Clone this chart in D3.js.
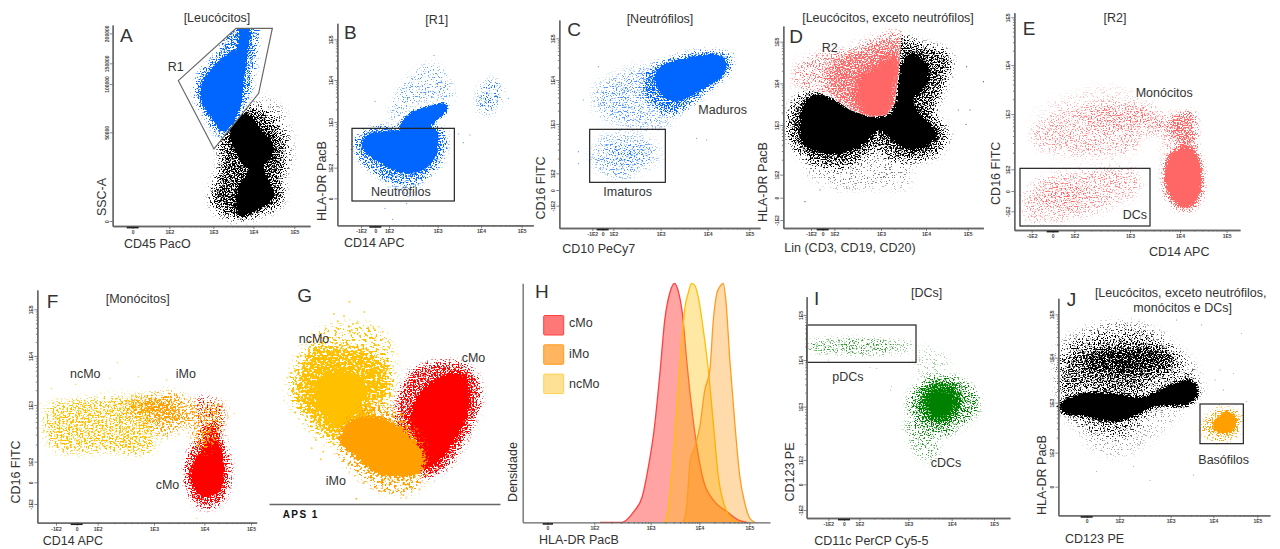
<!DOCTYPE html>
<html>
<head>
<meta charset="utf-8">
<script src="https://cdnjs.cloudflare.com/ajax/libs/d3/7.8.5/d3.min.js"></script>
<style>
  html, body { margin: 0; padding: 0; background: #fff; }
  svg { display: block; }
  text { font-family: "Liberation Sans", Arial, sans-serif; fill: #333; }
</style>
</head>
<body>
<svg id="chart" width="1280" height="549"></svg>
<script>
// Event clouds are read off the picture as density regions: [channel x, channel y] outlines
// with a relative density. Axis channels are 1/3 px. The grain is only an SVG filter texture.

// A
const aXTicks = [128, 238, 370, 490, 613];
const aXLabels = ["0", "1E2", "1E3", "1E4", "1E5"];
const aYTicks = [137, 403, 548, 610, 700];
const aYLabels = ["0", "50000", "100000", "150000", "200000"];
const aGate = [[265,558],[438,715],[547,715],[506,520],[372,353]];
const aBlueCore = [[478,715],[475,670],[470,620],[462,560],[455,500],[440,450],[420,420],[395,405],[370,440],[340,480],[330,520],[340,560],[370,600],[410,635],[440,655],[447,690],[450,715]];
const aBlueSparse = [[430,725],[500,725],[500,660],[490,580],[470,500],[400,390],[340,460],[315,530],[335,590],[380,635]];
const aBlackCore = [[440,445],[470,460],[510,415],[550,370],[545,330],[520,300],[545,240],[545,200],[500,170],[450,150],[440,170],[445,240],[475,290],[450,320],[425,370],[420,415]];
const aBlackMid = [[470,480],[530,460],[580,370],[575,280],[570,190],[510,160],[440,145],[380,170],[365,220],[385,270],[395,330],[390,380],[420,430]];
const aBlackFar = [[500,510],[570,480],[600,400],[600,290],[570,300],[560,430]];

// B
const bXTicks = [183, 226, 267, 413, 543, 665];
const bXLabels = ["-1E2", "0", "1E2", "1E3", "1E4", "1E5"];
const bYTicks = [205, 297, 434, 560, 682];
const bYLabels = ["0", "1E2", "1E3", "1E4", "1E5"];
const bGate = [[156,415],[463,197]];
const bCoreLow = [[185,375],[215,400],[280,407],[400,415],[415,380],[405,330],[370,290],[320,280],[270,295],[220,325],[190,350]];
const bCoreHigh = [[300,425],[330,460],[380,480],[440,488],[440,470],[410,440],[380,415],[300,415]];
const bMid = [[160,370],[200,410],[300,420],[430,410],[430,330],[380,270],[320,240],[260,260],[200,300],[170,335]];
const bUpper = [[270,460],[290,520],[340,580],[400,610],[450,560],[460,500],[430,500],[330,480],[290,430]];
const bLower = [[240,280],[320,200],[370,260]];
const bRight = [[540,540],[590,565],[605,510],[575,460],[540,465]];
const bStray = [[402,634],[225,496],[475,398],[510,395],[625,505],[255,175],[278,142],[320,190],[490,372],[437,388]];

// C
const cXTicks = [187, 218, 250, 392, 533, 658];
const cXLabels = ["-1E2", "0", "1E2", "1E3", "1E4", "1E5"];
const cYTicks = [183, 230, 280, 428, 560, 685];
const cYLabels = ["-1E2", "0", "1E2", "1E3", "1E4", "1E5"];
const cGate = [[179,412],[406,253]];
const cCore = [[385,595],[430,615],[520,635],[575,630],[588,605],[575,570],[520,535],[470,505],[420,500],[390,525],[375,560]];
const cMid = [[355,590],[420,620],[520,645],[600,630],[600,590],[540,535],[470,480],[420,455],[370,480],[340,530]];
const cFar = [[200,540],[250,570],[320,600],[370,590],[370,470],[430,440],[380,415],[300,420],[220,450],[190,490]];
const cImmature = [[185,320],[220,390],[280,400],[370,370],[390,330],[340,290],[280,260],[220,280]];
const cImmatureDense = [[230,335],[290,360],[340,330],[290,300]];
const cStray = [[205,600],[160,500],[145,345],[145,310],[500,385],[530,380],[610,640]];

// D
const dXTicks = [183, 218, 253, 393, 528, 653];
const dXLabels = ["-1E2", "0", "1E2", "1E3", "1E4", "1E5"];
const dYTicks = [140, 207, 276, 425, 550, 675];
const dYLabels = ["-1E2", "0", "1E2", "1E3", "1E4", "1E5"];
const dGate = [[120,535],[200,525],[250,505],[300,470],[360,450],[410,455],[435,490],[447,600],[455,700],[470,715],[120,715]];
const dBlackCore = [[150,410],[165,490],[200,515],[250,500],[300,470],[360,450],[420,455],[440,500],[455,600],[475,635],[510,630],[535,590],[525,540],[490,500],[510,460],[560,400],[535,365],[480,350],[420,385],[390,410],[350,375],[280,340],[200,345],[155,375]];
const dBlackMid = [[115,420],[140,500],[200,530],[360,460],[430,470],[440,690],[500,670],[600,630],[580,540],[550,460],[590,400],[560,340],[480,320],[420,330],[380,360],[300,310],[200,310],[140,350]];
const dBlackFar = [[160,300],[200,320],[430,350],[480,300],[470,240],[400,240],[250,240]];
const dRedCore = [[450,620],[430,530],[410,450],[350,450],[320,510],[330,570],[380,600],[420,630]];
const dRedMid = [[445,680],[435,450],[350,430],[280,480],[240,530],[240,610],[340,650]];
const dRedSparse = [[130,590],[170,630],[300,660],[465,710],[450,430],[300,480],[190,510],[130,530]];
const dStray = [[650,600],[700,555],[648,427],[625,470],[165,195],[210,230],[660,470]];

// E
const eXTicks = [155, 218, 283, 450, 600, 740];
const eXLabels = ["-1E2", "0", "1E2", "1E3", "1E4", "1E5"];
const eYTicks = [166, 227, 292, 458, 605, 748];
const eYLabels = ["-1E2", "0", "1E2", "1E3", "1E4", "1E5"];
const eGate = [[120,295],[510,122]];
const eCore = [[590,350],[635,355],[660,300],[660,230],[630,180],[590,190],[560,240],[560,310]];
const eMid = [[560,420],[600,460],[640,460],[650,360],[670,280],[665,210],[630,170],[590,175],[555,220],[555,320],[590,370]];
const eBand = [[150,400],[200,450],[350,490],[500,490],[560,460],[600,450],[590,360],[550,330],[540,400],[480,380],[470,350],[300,330],[170,360]];
const eBandDense = [[300,455],[400,480],[520,465],[550,410],[480,420],[350,420]];
const eDC = [[130,200],[170,260],[300,290],[470,290],[480,230],[400,180],[250,140],[140,140]];
const eDCDense = [[170,200],[230,240],[340,230],[300,190],[200,175]];
const eAbove = [[150,460],[350,540],[500,520],[350,490]];

// F
const fXTicks = [138, 200, 263, 432, 583, 723];
const fXLabels = ["-1E2", "0", "1E2", "1E3", "1E4", "1E5"];
const fYTicks = [128, 193, 255, 425, 572, 712];
const fYLabels = ["-1E2", "0", "1E2", "1E3", "1E4", "1E5"];
const fNcMo = [[115,420],[200,440],[330,450],[420,440],[430,290],[300,285],[120,302]];
const fIMo = [[340,430],[420,455],[490,465],[560,430],[640,430],[640,380],[610,300],[570,280],[530,360],[470,330],[400,370],[350,390]];
const fIMoDense = [[390,440],[470,440],[520,380],[430,390]];
const fRedCore = [[590,320],[620,320],[640,230],[630,170],[590,150],[550,180],[545,230],[570,280]];
const fRedMid = [[560,320],[610,375],[650,290],[660,200],[630,130],[570,120],[530,180],[530,260]];
const fRedUpper = [[560,445],[630,435],[640,360],[590,330]];
const fStray = [[323,552],[197,487],[125,474],[240,512],[300,505],[385,510],[470,500],[672,400],[560,85],[90,430]];

// G
const gRedCore = [[450,380],[490,470],[560,515],[610,515],[630,440],[600,350],[540,260],[500,235],[470,260],[470,310]];
const gRedSparse = [[410,380],[450,520],[560,555],[640,525],[660,440],[620,330],[550,230],[490,210],[450,280]];
const gYellowCore = [[165,490],[230,530],[320,490],[300,420],[240,360],[190,400]];
const gYellowMid = [[110,480],[160,590],[240,595],[350,570],[385,510],[370,440],[330,430],[340,390],[260,360],[225,320],[180,360],[120,430]];
const gYellowSparse = [[85,450],[100,540],[180,650],[340,660],[390,610],[390,440],[230,310],[150,350]];
const gYellowStray = [[268,735],[222,698],[313,704],[252,692],[233,676],[290,670],[268,660],[345,650],[368,645],[385,615],[155,295],[168,320],[190,285],[182,262]];
const gOrangeCore = [[240,320],[265,370],[300,385],[350,390],[400,370],[450,330],[490,270],[470,220],[350,220],[290,270]];
const gOrangeSparse = [[230,300],[300,210],[360,170],[460,165],[490,210],[500,270],[430,390],[360,430],[270,390]];
const gOrangeStray = [[289,144],[430,155],[310,190],[350,175],[265,245],[250,258]];

// H
const hXTicks = [0, 2, 3, 4, 5];
const hXLabels = ["0", "1E2", "1E3", "1E4", "1E5"];
const hDecades = [-1.05, 0, 2, 3, 4, 5, 5.41];
const hChannels = [68, 142, 283, 452, 598, 748, 810];
const hCMoX = [2.10, 2.49, 2.70, 2.85, 2.96, 3.07, 3.19, 3.29, 3.40, 3.49, 3.57, 3.66, 3.74, 3.84, 3.95, 4.08, 4.28, 4.55, 4.81, 4.95];
const hCMoY = [0, 0, 4.5, 10.7, 23.3, 38.6, 62.3, 84.7, 96.5, 100, 96.5, 86, 67.9, 48.4, 31.7, 17.7, 9.3, 4.5, 0.7, 0];
const hNcMoX = [3.29, 3.36, 3.43, 3.53, 3.64, 3.71, 3.77, 3.84, 3.91, 3.99, 4.08, 4.18, 4.28, 4.38, 4.51, 4.68, 4.78];
const hNcMoY = [0, 5.2, 19.1, 45.6, 76.3, 90.7, 95.8, 100, 99, 93, 80.5, 63.7, 41.4, 19.1, 6.5, 1, 0];
const hIMoX = [3.67, 3.74, 3.81, 3.91, 4.01, 4.11, 4.21, 4.28, 4.35, 4.41, 4.48, 4.53, 4.61, 4.71, 4.81, 4.91, 5.01, 5.11];
const hIMoY = [0, 6.6, 25.4, 31.7, 40, 55.4, 63.7, 84.7, 95.8, 98.6, 100, 93, 67.9, 41.4, 19.1, 8, 1.7, 0];

// I
const iXTicks = [175, 222, 268, 415, 545, 672];
const iXLabels = ["-1E2", "0", "1E2", "1E3", "1E4", "1E5"];
const iYTicks = [110, 187, 260, 420, 560, 695];
const iYLabels = ["-1E2", "0", "1E2", "1E3", "1E4", "1E5"];
const iGate = [[110,665],[438,553]];
const iBand = [[112,615],[200,625],[370,622],[430,610],[420,585],[300,575],[150,582],[112,590]];
const iBandDense = [[115,610],[370,615],[365,585],[115,590]];
const iCoreIn = [[480,450],[530,460],[545,420],[500,390]];
const iCore = [[460,470],[510,495],[560,475],[575,430],[540,380],[490,370],[450,410]];
const iMid = [[420,460],[480,505],[570,505],[620,460],[625,410],[570,360],[520,330],[460,350],[415,400]];
const iLow = [[405,380],[480,340],[510,280],[460,260],[420,310]];
const iUpper = [[450,600],[540,560],[500,510],[440,510]];
const iStray = [[365,480],[320,535],[300,538],[175,560],[362,470]];

// J
const jXTicks = [200, 298, 452, 580, 712];
const jXLabels = ["0", "1E2", "1E3", "1E4", "1E5"];
const jYTicks = [180, 282, 432, 567, 697];
const jYLabels = ["0", "1E2", "1E3", "1E4", "1E5"];
const jGate = [[540,428],[670,309]];
const jLowCore = [[118,425],[170,455],[260,460],[370,450],[440,480],[510,500],[535,465],[510,430],[400,420],[340,390],[280,375],[200,390],[125,405]];
const jUpper = [[150,580],[240,610],[380,615],[470,570],[450,520],[380,500],[370,460],[260,465],[180,480],[130,460]];
const jUpperCore = [[190,560],[280,590],[400,590],[450,560],[400,530],[250,520]];
const jSparse = [[120,600],[280,670],[400,650],[520,540],[540,460],[400,400],[300,330],[150,380],[118,460]];
const jLow = [[180,370],[340,380],[500,420],[430,350],[300,270],[220,290]];
const jBasoCore = [[590,385],[625,405],[650,380],[640,350],[605,340],[580,360]];
const jBasoSparse = [[545,360],[600,415],[660,400],[650,335],[600,315],[555,335]];
const jStray = [[665,640],[545,665],[585,500],[610,470],[640,520],[230,225],[390,198],[520,215],[340,240],[680,435],[600,530],[470,680]];

const svg = d3.select("#chart");
const defs = svg.append("defs");
let filterId = 0;

// speckle: blurred region alpha + noise, thresholded, so grain thins out with density
function speckle(color, freq, blur, soft, slope) {
  const id = "speckle" + (filterId++);
  const f = defs.append("filter").attr("id", id)
    .attr("filterUnits", "userSpaceOnUse")
    .attr("x", 0).attr("y", 0).attr("width", 1280).attr("height", 549)
    .attr("color-interpolation-filters", "sRGB");
  f.append("feGaussianBlur").attr("in", "SourceAlpha").attr("stdDeviation", blur).attr("result", "b");
  f.append("feTurbulence").attr("type", "fractalNoise").attr("baseFrequency", freq)
    .attr("numOctaves", 2).attr("seed", 4 + filterId).attr("result", "t");
  f.append("feColorMatrix").attr("in", "t").attr("type", "matrix")
    .attr("values", "0 0 0 0 0  0 0 0 0 0  0 0 0 0 0  0 0 0 3 -1").attr("result", "n");
  f.append("feComposite").attr("in", "b").attr("in2", "n").attr("operator", "arithmetic")
    .attr("k1", 0).attr("k2", 1.6).attr("k3", 1).attr("k4", -1).attr("result", "c");
  f.append("feComponentTransfer").attr("in", "c").attr("result", "m")
    .append("feFuncA").attr("type", "linear").attr("slope", slope);
  f.append("feFlood").attr("flood-color", color).attr("result", "fl");
  f.append("feComposite").attr("in", "fl").attr("in2", "m").attr("operator", "in").attr("result", "sp");
  f.append("feGaussianBlur").attr("in", "sp").attr("stdDeviation", soft);
  return id;
}

function makePanel(ox, oy, xStart, xEnd, yBase, yTop) {
  return {
    x: d3.scaleLinear().domain([xStart, xEnd]).range([ox + xStart / 3, ox + xEnd / 3]),
    y: d3.scaleLinear().domain([yBase, yTop]).range([oy + (800 - yBase) / 3, oy + (800 - yTop) / 3]),
    ox, oy, xStart, yBase
  };
}

function minorTicks(ticks, labels) {
  const out = [];
  labels.forEach((l, i) => {
    if (i + 1 < labels.length && l.startsWith("1E") && labels[i + 1].startsWith("1E")) {
      d3.range(2, 10).forEach(k => out.push(ticks[i] + (ticks[i + 1] - ticks[i]) * Math.log10(k)));
    }
  });
  return out;
}

function drawAxes(p, xTicks, xLabels, yTicks, yLabels) {
  const gx = svg.append("g").attr("transform", `translate(0,${p.y(p.yBase)})`);
  const gy = svg.append("g").attr("transform", `translate(${p.x(p.xStart)},0)`);
  gx.call(d3.axisBottom(p.x).tickValues(minorTicks(xTicks, xLabels)).tickSize(1.5).tickSizeOuter(0).tickFormat(""));
  gy.call(d3.axisLeft(p.y).tickValues(minorTicks(yTicks, yLabels)).tickSize(1.5).tickSizeOuter(0).tickFormat(""));
  gx.append("g").call(d3.axisBottom(p.x).tickValues(xTicks).tickSize(3).tickSizeOuter(0).tickPadding(1.5)
    .tickFormat((d, i) => xLabels[i]));
  gy.append("g").call(d3.axisLeft(p.y).tickValues(yTicks).tickSize(3).tickSizeOuter(0).tickFormat((d, i) => yLabels[i]));
  gy.selectAll("text").attr("transform", "rotate(-90,-4,0)")
    .attr("x", -4).attr("y", 0).attr("dy", 0).attr("text-anchor", "middle");
  svg.selectAll(".domain").attr("stroke", "#666").attr("stroke-width", 1.3);
  [gx, gy].forEach(g => {
    g.selectAll("line").attr("stroke", "#555").attr("stroke-width", 0.7);
    g.selectAll("text").style("font-size", "5px").style("font-weight", "bold").style("fill", "#444");
  });
  // stacked ticks round zero on the biexponential x axis
  const zero = xLabels.indexOf("0");
  gx.append("line").attr("x1", p.x(xTicks[zero] - 18)).attr("x2", p.x(xTicks[zero] + 18))
    .attr("y1", 1.6).attr("y2", 1.6).attr("stroke", "#222").attr("stroke-width", 1.6);
}

// sparse tiers get a wide blur so their grain fades out; solid tiers keep a tight fuzzy edge
function cloud(p, color, tiers, opts = {}) {
  const line = d3.line().x(d => p.x(d[0])).y(d => p.y(d[1])).curve(d3.curveCatmullRomClosed.alpha(0.5));
  const parent = opts.clip ? svg.append("g").attr("clip-path", `url(#${opts.clip})`) : svg;
  const soft = opts.soft || 0.3;
  const layer = (rows, blur) => {
    if (!rows.length) return;
    parent.append("g").attr("filter", `url(#${speckle(color, opts.freq || "0.67 0.79", blur, soft, opts.slope || 4)})`)
      .selectAll("path").data(rows).join("path")
      .attr("d", d => line(d[0])).attr("fill", "#000").attr("fill-opacity", d => d[1]);
  };
  layer(tiers.filter(t => t[1] < 1), opts.haze || 4);
  layer(tiers.filter(t => t[1] === 1), opts.blur || 1.6);
}

function stray(p, color, pts, r = 0.55) {
  svg.append("g").selectAll("circle").data(pts).join("circle")
    .attr("cx", d => p.x(d[0])).attr("cy", d => p.y(d[1])).attr("r", r).attr("fill", color).attr("opacity", 0.75);
}

function gatePoly(p, pts, id) {
  const line = d3.line().x(d => p.x(d[0])).y(d => p.y(d[1]));
  defs.append("clipPath").attr("id", id).append("path").attr("d", line(pts) + "Z");
  return line(pts) + "Z";
}

function gateRect(p, c) {
  svg.append("rect").attr("x", p.x(c[0][0])).attr("y", p.y(c[0][1]))
    .attr("width", p.x(c[1][0]) - p.x(c[0][0])).attr("height", p.y(c[1][1]) - p.y(c[0][1]))
    .attr("fill", "none").attr("stroke", "#222").attr("stroke-width", 1.2);
}

function label(txt, x, y, size = 12.5, rotate = false, anchor = "start") {
  svg.append("text").text(txt).attr("x", x).attr("y", y).attr("text-anchor", rotate ? "middle" : anchor)
    .attr("transform", rotate ? `rotate(-90,${x},${y})` : null).style("font-size", size + "px");
}

const BLUE = "#0066ff", BLACK = "#000", SALMON = "#ff6666", RED = "#ff0000";
const AMBER = "#ffc000", ORANGE = "#ffa000", GREEN = "#008000";

// A
const pA = makePanel(90, 0, 68, 660, 122, 725);
cloud(pA, BLACK, [[aBlackFar, 0.1], [aBlackMid, 0.46], [aBlackCore, 1]]);
const aPath = gatePoly(pA, aGate, "clipA");
svg.append("path").attr("d", aPath).attr("fill", "#fff");
cloud(pA, BLUE, [[aBlueSparse, 0.36], [aBlueCore, 1]], { clip: "clipA", haze: 3 });
svg.append("path").attr("d", aPath).attr("fill", "none").attr("stroke", "#666").attr("stroke-width", 1.2);
drawAxes(pA, aXTicks, aXLabels, aYTicks, aYLabels);

// B
const pB = makePanel(300, 0, 112, 700, 124, 730);
cloud(pB, BLUE, [[bUpper, 0.17], [bLower, 0.1], [bRight, 0.24]], { haze: 3.5, soft: 0.4, slope: 2.5 });
cloud(pB, BLUE, [[bMid, 0.36], [bCoreLow, 1], [bCoreHigh, 1]], { blur: 1.4, haze: 3 });
stray(pB, BLUE, bStray);
gateRect(pB, bGate);
drawAxes(pB, bXTicks, bXLabels, bYTicks, bYLabels);

// C
const pC = makePanel(530, 0, 88, 690, 116, 740);
cloud(pC, BLUE, [[cFar, 0.22], [cImmature, 0.22], [cImmatureDense, 0.1]], { haze: 5, soft: 0.4, slope: 2 });
cloud(pC, BLUE, [[cMid, 0.42], [cCore, 1]], { haze: 3 });
stray(pC, BLUE, cStray);
gateRect(pC, cGate);
drawAxes(pC, cXTicks, cXLabels, cYTicks, cYLabels);

// D
const pD = makePanel(750, 0, 100, 700, 116, 722);
cloud(pD, BLACK, [[dBlackFar, 0.08], [dBlackMid, 0.42], [dBlackCore, 1]], { blur: 2 });
const dPath = gatePoly(pD, dGate, "clipD");
svg.append("path").attr("d", dPath).attr("fill", "#fff");
cloud(pD, SALMON, [[dRedSparse, 0.26], [dRedMid, 0.36], [dRedCore, 0.85]], { clip: "clipD", haze: 5, soft: 0.4, slope: 2.5 });
stray(pD, BLACK, dStray);
drawAxes(pD, dXTicks, dXLabels, dYTicks, dYLabels);

// E
const pE = makePanel(980, 0, 103, 780, 110, 762);
cloud(pE, SALMON, [[eAbove, 0.12], [eBand, 0.25], [eBandDense, 0.12], [eDC, 0.25], [eDCDense, 0.1]], { haze: 5, soft: 0.4, slope: 2 });
cloud(pE, SALMON, [[eMid, 0.42], [eCore, 1]], { haze: 3, blur: 2 });
gateRect(pE, eGate);
drawAxes(pE, eXTicks, eXLabels, eYTicks, eYLabels);

// F
const pF = makePanel(10, 280, 82, 740, 72, 770);
cloud(pF, RED, [[fRedUpper, 0.2], [fRedMid, 0.45], [fRedCore, 1]], { haze: 3 });
cloud(pF, AMBER, [[fNcMo, 0.34]], { freq: "0.51 0.6", haze: 4, slope: 3 });
cloud(pF, ORANGE, [[fIMo, 0.32], [fIMoDense, 0.3]], { freq: "0.51 0.6", haze: 4, slope: 3 });
stray(pF, AMBER, fStray, 0.7);
drawAxes(pF, fXTicks, fXLabels, fYTicks, fYLabels);

// G
const pG = makePanel(260, 280, 27, 720, 128, 760);
cloud(pG, RED, [[gRedSparse, 0.45], [gRedCore, 1]], { blur: 2, haze: 3.5 });
cloud(pG, AMBER, [[gYellowSparse, 0.22], [gYellowMid, 0.5], [gYellowCore, 1]], { freq: "0.37 0.43", blur: 3, haze: 5 });
cloud(pG, ORANGE, [[gOrangeSparse, 0.3], [gOrangeCore, 1]], { freq: "0.37 0.43", blur: 2.2, haze: 4 });
stray(pG, AMBER, gYellowStray, 1);
stray(pG, ORANGE, gOrangeStray, 1);
svg.append("g").attr("transform", `translate(0,${pG.y(128)})`)
  .call(d3.axisBottom(pG.x).tickValues([]).tickSize(0))
  .select(".domain").attr("stroke", "#666").attr("stroke-width", 1.6);

// H
const hx = d3.scaleLinear().domain(hDecades).range(hChannels.map(c => 500 + c / 3));
const hy = d3.scaleLinear().domain([0, 100]).range([280 + 727 / 3, 280 + 10 / 3]);
const hArea = d3.area().x(d => hx(d[0])).y0(hy(0)).y1(d => hy(d[1])).curve(d3.curveMonotoneX);
const hLine = hArea.lineY1();
const hSeries = [
  { x: hCMoX, y: hCMoY, fill: "#ff0000", stroke: "#ff4040", op: 0.36 },
  { x: hNcMoX, y: hNcMoY, fill: "#ffc000", stroke: "#ffc000", op: 0.36 },
  { x: hIMoX, y: hIMoY, fill: "#ff9000", stroke: "#ff9c20", op: 0.33 }
];
hSeries.forEach(s => {
  const pts = s.x.map((v, i) => [v, s.y[i]]);
  svg.append("path").attr("d", hArea(pts)).attr("fill", s.fill).attr("fill-opacity", s.op);
  svg.append("path").attr("d", hLine(pts)).attr("fill", "none").attr("stroke", s.stroke).attr("stroke-width", 1.3);
});
const hgx = svg.append("g").attr("transform", `translate(0,${hy(0)})`)
  .call(d3.axisBottom(hx).tickValues(hXTicks).tickSize(3).tickSizeOuter(0).tickPadding(1.5).tickFormat((d, i) => hXLabels[i]));
hgx.select(".domain").attr("stroke", "#666").attr("stroke-width", 1.3);
hgx.append("g").call(d3.axisBottom(hx).tickValues(minorTicks(hXTicks, hXLabels)).tickSize(1.5).tickSizeOuter(0).tickFormat(""))
  .select(".domain").remove();
hgx.selectAll("line").attr("stroke", "#555").attr("stroke-width", 0.7);
hgx.selectAll("text").style("font-size", "5px").style("font-weight", "bold").style("fill", "#444");
hgx.append("line").attr("x1", hx(-0.2)).attr("x2", hx(0.24)).attr("y1", 1.6).attr("y2", 1.6)
  .attr("stroke", "#222").attr("stroke-width", 1.6);
svg.append("g").attr("transform", `translate(${hx(-1.05)},0)`)
  .call(d3.axisLeft(hy).tickValues([]).tickSize(0)).select(".domain").attr("stroke", "#777").attr("stroke-width", 1.4);
const hLegend = [["cMo", "#ff7878", "#ff4040"], ["iMo", "#ffb45f", "#ff9c20"], ["ncMo", "#ffe196", "#ffd050"]];
svg.append("g").selectAll("rect").data(hLegend).join("rect")
  .attr("x", 543.7).attr("width", 20).attr("y", (d, i) => 315.5 + i * 29.3).attr("height", 19.5)
  .attr("rx", 1).attr("fill", d => d[1]).attr("stroke", d => d[2]).attr("stroke-width", 1);

// I
const pI = makePanel(770, 280, 110, 720, 86, 750);
cloud(pI, GREEN, [[iBand, 0.16], [iBandDense, 0.1]], { haze: 2.2, soft: 0.4, slope: 2 });
cloud(pI, GREEN, [[iUpper, 0.08], [iLow, 0.17], [iMid, 0.3], [iCore, 0.55], [iCoreIn, 0.8]], { haze: 3.5, soft: 0.35, slope: 3 });
stray(pI, GREEN, iStray, 0.45);
gateRect(pI, iGate);
drawAxes(pI, iXTicks, iXLabels, iYTicks, iYLabels);

// J
const pJ = makePanel(1020, 280, 115, 750, 94, 745);
cloud(pJ, BLACK, [[jLow, 0.08], [jSparse, 0.2], [jUpper, 0.26], [jUpperCore, 0.34]], { haze: 5, slope: 3 });
cloud(pJ, BLACK, [[jLowCore, 1]], { blur: 2 });
cloud(pJ, ORANGE, [[jBasoSparse, 0.32], [jBasoCore, 1]], { haze: 3 });
stray(pJ, BLACK, jStray, 0.45);
gateRect(pJ, jGate);
drawAxes(pJ, jXTicks, jXLabels, jYTicks, jYLabels);

// text
[["A", 120, 42], ["B", 344, 39], ["C", 567.3, 36], ["D", 789.3, 43.3], ["E", 1022.7, 35],
 ["F", 46.7, 308.3], ["G", 297.3, 301.7], ["H", 535, 298.3], ["I", 814, 305], ["J", 1066.7, 306]]
  .forEach(d => label(d[0], d[1], d[2], 19));
[["[Leucócitos]", 217, 21.7], ["[R1]", 436.7, 24], ["[Neutrófilos]", 660, 22.7],
 ["[Leucócitos, exceto neutrófilos]", 888, 21.7], ["[R2]", 1115, 21.7], ["[Monócitos]", 137.7, 302.7],
 ["[DCs]", 926.7, 296.7], ["[Leucócitos, exceto neutrófilos,", 1180.7, 296.7], ["monócitos e DCs]", 1182.7, 312.3]]
  .forEach(d => label(d[0], d[1], d[2], 12.5, false, "middle"));
[["R1", 167.7, 70.7], ["CD45 PacO", 124, 248], ["CD14 APC", 344, 247], ["Neutrófilos", 371, 195.7],
 ["CD10 PeCy7", 562.3, 253], ["Maduros", 698.3, 114], ["Imaturos", 603.3, 195.7], ["R2", 821.7, 51.7],
 ["Lin (CD3, CD19, CD20)", 784.3, 251.7], ["Monócitos", 1135.7, 96.7], ["CD14 APC", 1149, 256],
 ["DCs", 1122.7, 219.3], ["ncMo", 70, 377.7], ["iMo", 175.7, 377.7], ["cMo", 155.7, 488.7],
 ["CD14 APC", 42.7, 545], ["ncMo", 298.7, 343.3], ["iMo", 325.7, 485.3], ["cMo", 461.7, 362],
 ["cMo", 569, 327.3], ["iMo", 569, 357.7], ["ncMo", 569, 387.7], ["HLA-DR PacB", 539, 544],
 ["pDCs", 832.3, 381], ["cDCs", 930.7, 467.3], ["CD11c PerCP Cy5-5", 814.3, 545],
 ["Basófilos", 1198.3, 464], ["CD123 PE", 1065, 543.3]]
  .forEach(d => label(d[0], d[1], d[2]));
[["SSC-A", 106, 197], ["HLA-DR PacB", 325.7, 181], ["CD16 FITC", 545, 188], ["HLA-DR PacB", 766.7, 182],
 ["CD16 FITC", 1000, 173.3], ["CD16 FITC", 20, 472], ["Densidade", 517, 472], ["CD123 PE", 794, 472],
 ["HLA-DR PacB", 1045.7, 475]]
  .forEach(d => label(d[0], d[1], d[2], 12.5, true));
svg.append("text").text("APS 1").attr("x", 282.7).attr("y", 518.3)
  .style("font-size", "10px").style("font-weight", "bold").style("letter-spacing", "1.4px").style("fill", "#111");
</script>
</body>
</html>
